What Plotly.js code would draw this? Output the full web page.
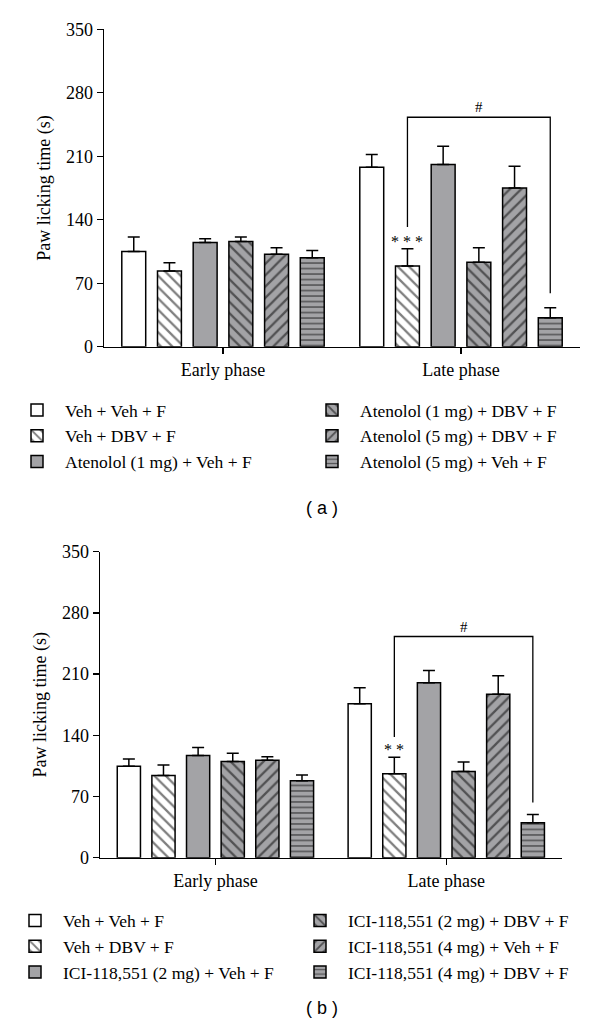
<!DOCTYPE html>
<html><head><meta charset="utf-8">
<script src="https://cdn.plot.ly/plotly-3.0.1.min.js"></script>
<style>html,body{margin:0;padding:0;background:#fff;} #chart{width:600px;height:1034px;}</style>
</head><body><div id="chart"></div>
<script>
// ---------- data ----------
const phases = ['Early phase', 'Late phase'];
const yTicks = [0, 70, 140, 210, 280, 350];

// Panel (a)
const namesA = ['Veh + Veh + F', 'Veh + DBV + F', 'Atenolol (1 mg) + Veh + F',
  'Atenolol (1 mg) + DBV + F', 'Atenolol (5 mg) + DBV + F', 'Atenolol (5 mg) + Veh + F'];
const a_vehVeh    = [105, 198];
const a_vehDbv    = [83.5, 89];
const a_ate1Veh   = [115, 201];
const a_ate1Dbv   = [116, 93];
const a_ate5Dbv   = [102, 175];
const a_ate5Veh   = [98, 32];
const a_err_vehVeh  = [16, 14];
const a_err_vehDbv  = [9, 19];
const a_err_ate1Veh = [4, 20];
const a_err_ate1Dbv = [5, 16];
const a_err_ate5Dbv = [7, 24];
const a_err_ate5Veh = [8, 11];
const a_sigStars = '* * *';
const a_bracket = [253, 132, 59];   // top, left-leg end, right-leg end (s)

// Panel (b)
const namesB = ['Veh + Veh + F', 'Veh + DBV + F', 'ICI-118,551 (2 mg) + Veh + F',
  'ICI-118,551 (2 mg) + DBV + F', 'ICI-118,551 (4 mg) + Veh + F', 'ICI-118,551 (4 mg) + DBV + F'];
const b_vehVeh    = [104.5, 176];
const b_vehDbv    = [94, 96];
const b_ici2Veh   = [117, 200];
const b_ici2Dbv   = [110, 98.5];
const b_ici4Veh   = [111.5, 187];
const b_ici4Dbv   = [88, 40];
const b_err_vehVeh  = [8.5, 18.5];
const b_err_vehDbv  = [12, 19];
const b_err_ici2Veh = [9, 14];
const b_err_ici2Dbv = [9.5, 11];
const b_err_ici4Veh = [4, 21];
const b_err_ici4Dbv = [6.5, 9.5];
const b_sigStars = '* *';
const b_bracket = [253, 138, 63];

// ---------- styling ----------
const GRAY = '#a3a3a6';
const fills = ['#ffffff', '#ffffff', GRAY, GRAY, GRAY, GRAY];
const pats  = ['', '\\', '', '\\', '/', '-'];
const SERIF = 'Liberation Serif';
const SANS = 'Liberation Sans';

const W = 600, H = 1034;
const BARGAP = 0.1, NSER = 6;
const slot = (1 - BARGAP) / NSER;
function barCenter(phaseIdx, serIdx) { return phaseIdx + (serIdx - (NSER - 1) / 2) * slot; }

function makeTraces(names, vals, errs, xa, ya, legL, legR) {
  return vals.map((v, i) => {
    const marker = {color: fills[i], line: {color: '#000', width: 1.5}};
    if (pats[i]) {
      marker.pattern = {shape: pats[i], fgcolor: '#000', bgcolor: fills[i],
        size: pats[i] === '-' ? 5.5 : 8, solidity: pats[i] === '-' ? 0.27 : 0.28, fillmode: 'overlay'};
    }
    return {
      type: 'bar', name: names[i], x: phases, y: v,
      xaxis: xa, yaxis: ya, legend: i < 3 ? legL : legR,
      marker: marker,
      error_y: {type: 'data', symmetric: false, array: errs[i], arrayminus: v.map(() => 0),
        color: '#000', thickness: 1.5, width: 6},
      hoverinfo: 'skip'
    };
  });
}

const valsA = [a_vehVeh, a_vehDbv, a_ate1Veh, a_ate1Dbv, a_ate5Dbv, a_ate5Veh];
const errsA = [a_err_vehVeh, a_err_vehDbv, a_err_ate1Veh, a_err_ate1Dbv, a_err_ate5Dbv, a_err_ate5Veh];
const valsB = [b_vehVeh, b_vehDbv, b_ici2Veh, b_ici2Dbv, b_ici4Veh, b_ici4Dbv];
const errsB = [b_err_vehVeh, b_err_vehDbv, b_err_ici2Veh, b_err_ici2Dbv, b_err_ici4Veh, b_err_ici4Dbv];

const data = makeTraces(namesA, valsA, errsA, 'x', 'y', 'legend', 'legend2')
  .concat(makeTraces(namesB, valsB, errsB, 'x2', 'y2', 'legend3', 'legend4'));

function xAxis(d) {
  return {domain: d, range: [-0.5, 1.5], showline: true, linecolor: '#000', linewidth: 1.3,
    ticks: 'outside', ticklen: 6, tickwidth: 1.3, tickcolor: '#000', showgrid: false, zeroline: false,
    tickfont: {family: SERIF, size: 18, color: '#000'}, fixedrange: true};
}
function yAxis(d, anchor) {
  return {domain: d, anchor: anchor, range: [0, 350], tickvals: yTicks, showline: true, linecolor: '#000',
    linewidth: 1.3, ticks: 'outside', ticklen: 6, tickwidth: 1.3, tickcolor: '#000', showgrid: false,
    zeroline: false, tickfont: {family: SERIF, size: 18, color: '#000'}, fixedrange: true,
    title: {text: 'Paw licking time (s)', font: {family: SERIF, size: 18, color: '#000'}, standoff: 10}};
}

function bracket(xa, ya, br) {
  const x1 = barCenter(1, 1), x2 = barCenter(1, 5);
  return {type: 'path', xref: xa, yref: ya,
    path: `M${x1},${br[1]} L${x1},${br[0]} L${x2},${br[0]} L${x2},${br[2]}`,
    line: {color: '#000', width: 1.3}};
}
function sigAnnots(xa, ya, vals, errs, stars, br) {
  return [
    {xref: xa, yref: ya, x: barCenter(1, 1), y: vals[1][1] + errs[1][1], yanchor: 'bottom', yshift: -3,
      text: stars, showarrow: false, font: {family: SERIF, size: 16, color: '#000000'}},
    {xref: xa, yref: ya, x: (barCenter(1, 1) + barCenter(1, 5)) / 2, y: br[0], yanchor: 'bottom', yshift: 0,
      text: '#', showarrow: false, font: {family: SERIF, size: 15, color: '#000000'}}
  ];
}
function leg(xpx, ypx) {
  return {x: xpx / W, y: 1 - ypx / H, xanchor: 'left', yanchor: 'middle', orientation: 'v',
    font: {family: SERIF, size: 17.5, color: '#000'}, bgcolor: 'rgba(0,0,0,0)', borderwidth: 0,
    itemwidth: 46, traceorder: 'normal', itemclick: false, itemdoubleclick: false};
}

const layout = {
  width: W, height: H, margin: {l: 0, r: 0, t: 0, b: 0, pad: 0},
  paper_bgcolor: '#fff', plot_bgcolor: 'rgba(0,0,0,0)',
  font: {family: SERIF, size: 18, color: '#000'},
  barmode: 'group', bargap: BARGAP, bargroupgap: 0.33,
  showlegend: true,
  xaxis: Object.assign(xAxis([104 / W, 580 / W]), {anchor: 'y'}),
  yaxis: yAxis([1 - 346.7 / H, 1 - 29.3 / H], 'x'),
  xaxis2: Object.assign(xAxis([100 / W, 561.7 / W]), {anchor: 'y2'}),
  yaxis2: yAxis([1 - 857.7 / H, 1 - 551.7 / H], 'x2'),
  legend: leg(9, 436),
  legend2: leg(304, 436),
  legend3: leg(7, 946.5),
  legend4: leg(292, 946.5),
  shapes: [bracket('x', 'y', a_bracket), bracket('x2', 'y2', b_bracket)],
  annotations: sigAnnots('x', 'y', valsA, errsA, a_sigStars, a_bracket)
    .concat(sigAnnots('x2', 'y2', valsB, errsB, b_sigStars, b_bracket))
    .concat([
      {xref: 'paper', yref: 'paper', x: 322 / W, y: 1 - 508 / H, text: '( a )', showarrow: false,
        font: {family: SANS, size: 18, color: '#000'}},
      {xref: 'paper', yref: 'paper', x: 322 / W, y: 1 - 1020 / H, text: '( b )', showarrow: false,
        font: {family: SANS, size: 18, color: '#000'}}
    ])
};

Plotly.newPlot('chart', data, layout, {staticPlot: true, displayModeBar: false});
</script>
</body></html>
